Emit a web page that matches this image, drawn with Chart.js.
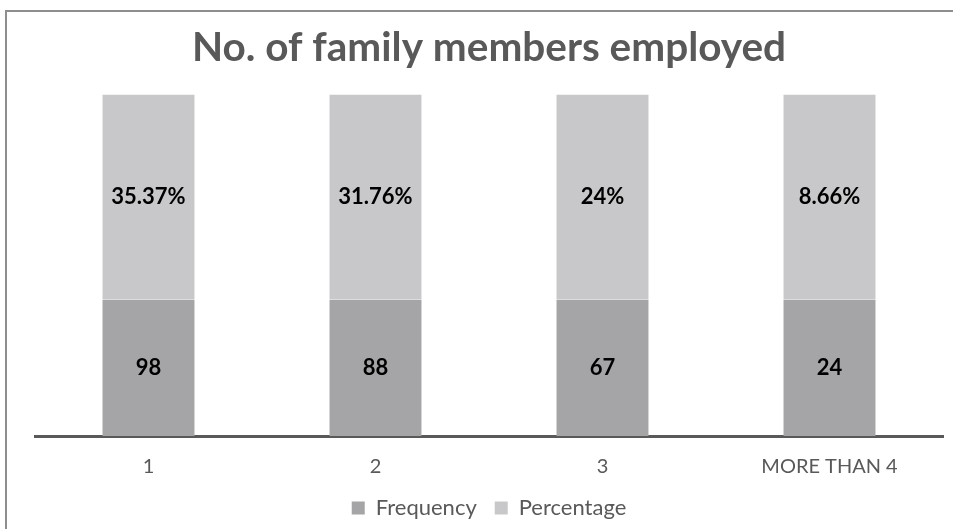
<!DOCTYPE html>
<html>
<head>
<meta charset="utf-8">
<script src="https://cdn.jsdelivr.net/npm/chart.js@4.4.1/dist/chart.umd.min.js"></script>
<style>
	html, body { margin: 0; padding: 0; background: #fff; overflow: hidden; }
	#frame { position: absolute; left: 5px; top: 10px; width: 960px; height: 530px;
		border-top: 2px solid #8e8e8e; border-left: 2px solid #8e8e8e; }
	#wrap { position: absolute; left: 0; top: 0; width: 953px; height: 529px; }
</style>
</head>
<body>
<div id="frame"></div>
<div id="wrap"><canvas id="membersChart" width="953" height="529"></canvas></div>
<script>
// categories and series
var categories = ['1', '2', '3', 'MORE THAN 4'];
var frequency = [98, 88, 67, 24];
var percentage = [35.37, 31.76, 24, 8.66];

var FONT = "Lato, 'Open Sans', sans-serif";

// every column is a full 100% column: frequency in the lower band, percentage in the upper
function fullColumn(values) {
	return values.map(function (v) { return v > 0 ? 1 : 0; });
}

// write the raw value in the middle of each segment
var segmentLabels = {
	id: 'segmentLabels',
	afterDatasetsDraw: function (chart) {
		var ctx = chart.ctx;
		ctx.save();
		ctx.font = "bold 22px " + FONT;
		ctx.fillStyle = '#000';
		ctx.textAlign = 'center';
		ctx.textBaseline = 'middle';
		chart.data.datasets.forEach(function (ds, di) {
			chart.getDatasetMeta(di).data.forEach(function (bar, i) {
				var p = bar.getProps(['x', 'y', 'base'], true);
				ctx.fillText(ds.rawValues[i] + ds.suffix, p.x, (p.y + p.base) / 2);
			});
		});
		ctx.restore();
	}
};

new Chart("membersChart", {
	type: 'bar',
	data: {
		labels: categories,
		datasets: [{
			label: 'Frequency',
			data: fullColumn(frequency),
			rawValues: frequency,
			suffix: '',
			yAxisID: 'yFreq',
			backgroundColor: '#a5a5a7',
			categoryPercentage: 1,
			barPercentage: 0.405
		}, {
			label: 'Percentage',
			data: fullColumn(percentage),
			rawValues: percentage,
			suffix: '%',
			yAxisID: 'yPct',
			backgroundColor: '#c8c8ca',
			categoryPercentage: 1,
			barPercentage: 0.405
		}]
	},
	options: {
		responsive: false,
		animation: false,
		layout: { padding: { left: 35, right: 10, top: 0, bottom: 0 } },
		scales: {
			x: {
				stacked: true,
				grid: { display: false },
				border: { color: '#595959', width: 3 },
				ticks: { color: '#595959', font: { family: FONT, size: 20 }, padding: 11 },
				afterFit: function (scale) { scale.height = 43; }
			},
			yFreq: {
				display: false,
				stacked: true,
				stack: 'bands',
				stackWeight: 2,
				min: 0,
				max: 1
			},
			yPct: {
				display: false,
				stacked: true,
				stack: 'bands',
				stackWeight: 3,
				min: 0,
				max: 1
			}
		},
		plugins: {
			title: {
				display: true,
				text: 'No. of family members employed',
				color: '#595959',
				font: { family: FONT, size: 40.5, weight: 'bold' },
				padding: { top: 24, bottom: 22 }
			},
			legend: {
				position: 'bottom',
				labels: {
					color: '#595959',
					font: { family: FONT, size: 22 },
					boxWidth: 13,
					boxHeight: 13,
					padding: 18
				}
			},
			tooltip: { enabled: false }
		}
	},
	plugins: [segmentLabels]
});
</script>
</body>
</html>
